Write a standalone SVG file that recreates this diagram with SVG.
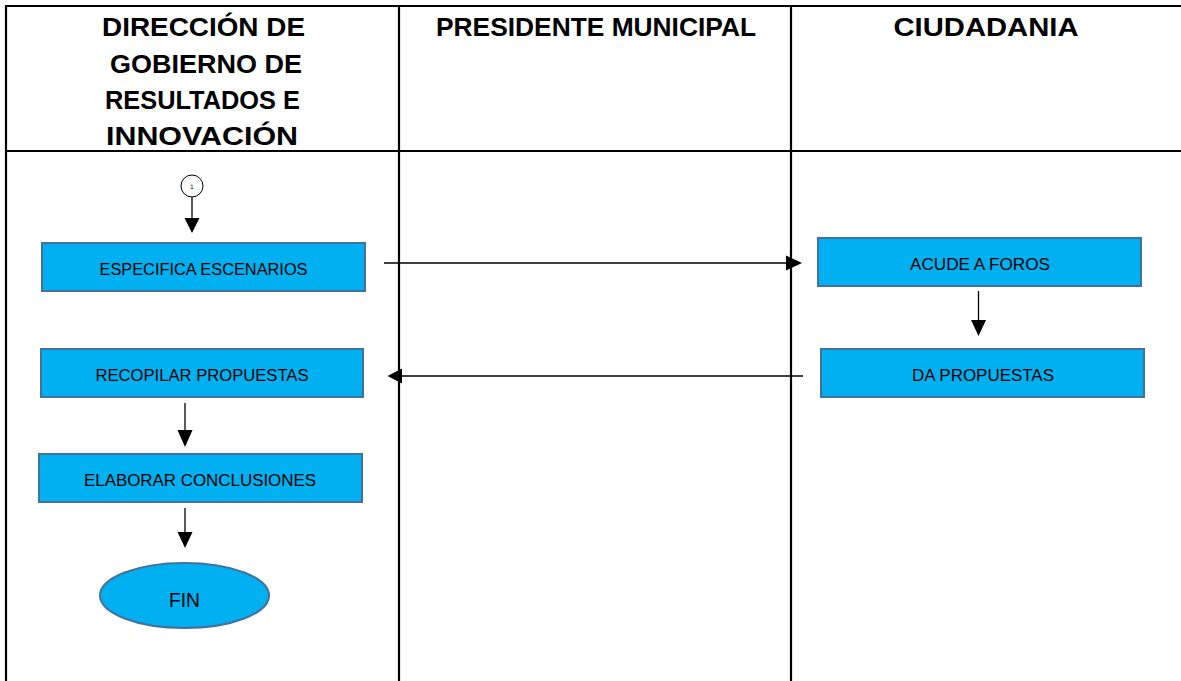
<svg xmlns="http://www.w3.org/2000/svg" width="1181" height="681" viewBox="0 0 1181 681">
<defs>
<style>
.grid{stroke:#000;stroke-width:2.2;fill:none}
.hdr{font-family:"Liberation Sans",Arial,sans-serif;font-weight:bold;font-size:26px;fill:#000;text-anchor:middle}
.box{fill:#00B0F0;stroke:#41719C;stroke-width:2}
.lbl{font-family:"Liberation Sans",Arial,sans-serif;font-size:16px;fill:#000;text-anchor:middle}
.conn{stroke:#000;stroke-width:1.3;fill:none}
.head{fill:#000}
</style>
</defs>
<rect width="1181" height="681" fill="#fff"/>
<g id="table">
<line class="grid" x1="5" y1="6" x2="1181" y2="6"/>
<line class="grid" x1="5" y1="151" x2="1181" y2="151"/>
<line class="grid" x1="6" y1="5" x2="6" y2="681"/>
<line class="grid" x1="399" y1="5" x2="399" y2="681"/>
<line class="grid" x1="791" y1="5" x2="791" y2="681"/>
</g>
<g id="headers">
<text class="hdr" x="203.5" y="36" textLength="203" lengthAdjust="spacingAndGlyphs">DIRECCIÓN DE</text>
<text class="hdr" x="206" y="72.5" textLength="192" lengthAdjust="spacingAndGlyphs">GOBIERNO DE</text>
<text class="hdr" x="202.5" y="108.5" textLength="195" lengthAdjust="spacingAndGlyphs">RESULTADOS E</text>
<text class="hdr" x="202" y="145" textLength="192" lengthAdjust="spacingAndGlyphs">INNOVACIÓN</text>
<text class="hdr" x="596" y="36" textLength="320" lengthAdjust="spacingAndGlyphs">PRESIDENTE MUNICIPAL</text>
<text class="hdr" x="986" y="36" textLength="185" lengthAdjust="spacingAndGlyphs">CIUDADANIA</text>
</g>
<g id="connectors">
<line class="conn" x1="192" y1="197" x2="192" y2="220"/>
<polygon class="head" points="184.5,218 199.5,218 192,233"/>
<line class="conn" x1="384" y1="263" x2="788" y2="263"/>
<polygon class="head" points="786,255.5 786,270.5 802,263"/>
<line class="conn" x1="978.5" y1="291" x2="978.5" y2="322"/>
<polygon class="head" points="971,320 986,320 978.5,336"/>
<line class="conn" x1="803" y1="376" x2="400" y2="376"/>
<polygon class="head" points="402,368.5 402,383.5 387.5,376"/>
<line class="conn" x1="185" y1="403" x2="185" y2="432"/>
<polygon class="head" points="177.5,430 192.5,430 185,447"/>
<line class="conn" x1="185" y1="508" x2="185" y2="534"/>
<polygon class="head" points="177.5,532 192.5,532 185,548"/>
</g>
<g id="start">
<circle cx="192" cy="186" r="11" fill="#fff" stroke="#000" stroke-width="1"/>
<text x="192" y="188.5" font-family="'DejaVu Sans',sans-serif" font-size="6" text-anchor="middle">1</text>
</g>
<g id="especifica">
<rect class="box" x="42" y="243" width="323" height="48"/>
<text class="lbl" x="203.5" y="275" textLength="208" lengthAdjust="spacingAndGlyphs">ESPECIFICA ESCENARIOS</text>
</g>
<g id="recopilar">
<rect class="box" x="41" y="349" width="322" height="48"/>
<text class="lbl" x="202" y="381" textLength="213" lengthAdjust="spacingAndGlyphs">RECOPILAR PROPUESTAS</text>
</g>
<g id="elaborar">
<rect class="box" x="39" y="454" width="323" height="48"/>
<text class="lbl" x="200" y="486" textLength="232" lengthAdjust="spacingAndGlyphs">ELABORAR CONCLUSIONES</text>
</g>
<g id="fin">
<ellipse class="box" cx="184.5" cy="595.5" rx="84.5" ry="32.5"/>
<text class="lbl" x="184.5" y="607" style="font-size:21px" textLength="31" lengthAdjust="spacingAndGlyphs">FIN</text>
</g>
<g id="acude">
<rect class="box" x="818" y="238" width="323" height="48"/>
<text class="lbl" x="980" y="270" textLength="140" lengthAdjust="spacingAndGlyphs">ACUDE A FOROS</text>
</g>
<g id="da">
<rect class="box" x="821" y="349" width="323" height="48"/>
<text class="lbl" x="983" y="381" textLength="142" lengthAdjust="spacingAndGlyphs">DA PROPUESTAS</text>
</g>
</svg>
